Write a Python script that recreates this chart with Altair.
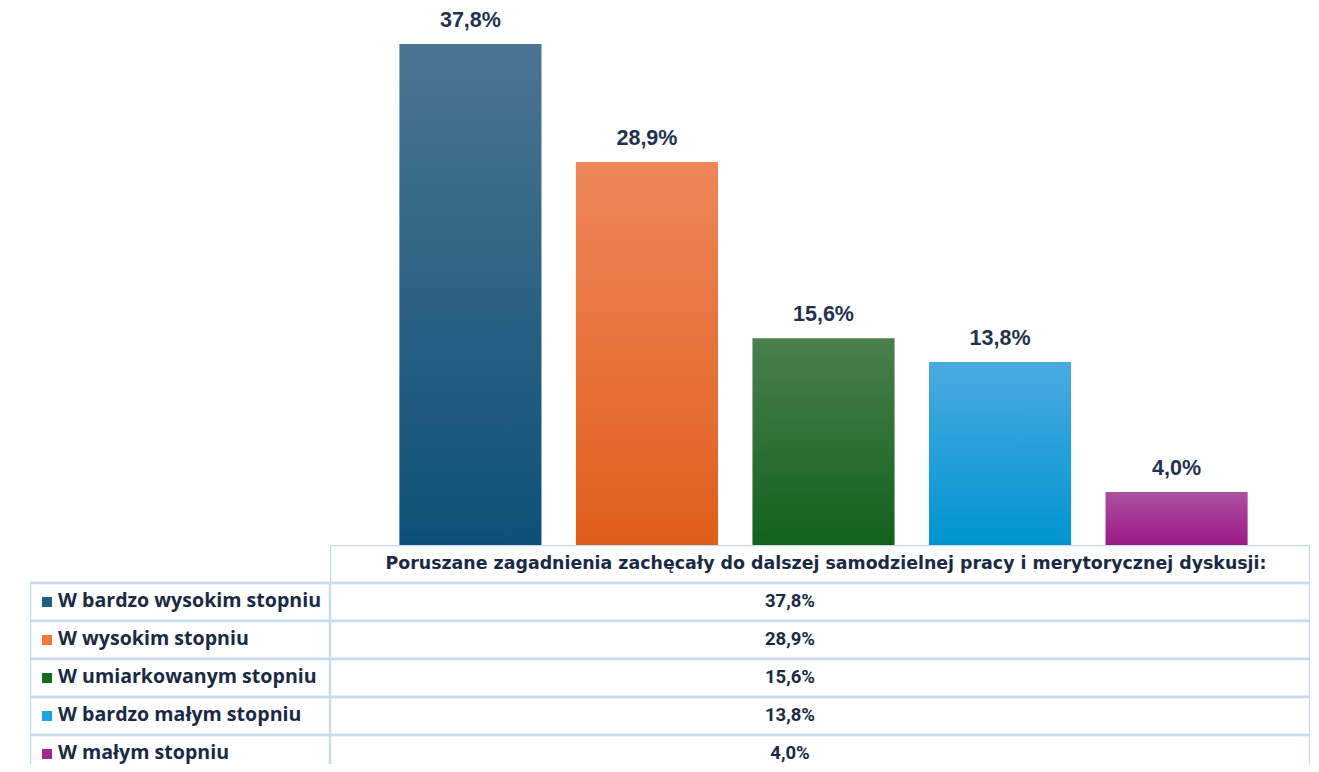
import altair as alt
import pandas as pd

categories = [
    "W bardzo wysokim stopniu",
    "W wysokim stopniu",
    "W umiarkowanym stopniu",
    "W bardzo małym stopniu",
    "W małym stopniu",
]
values = [37.8, 28.9, 15.6, 13.8, 4.0]
value_labels = [f"{v:.1f}%".replace(".", ",") for v in values]
header_text = "Poruszane zagadnienia zachęcały do dalszej samodzielnej pracy i merytorycznej dyskusji:"
square_colors = ["#1f5f80", "#ef7a3e", "#186a1e", "#1aa5e0", "#a02892"]
grad_top = ["#4b7592", "#ee8659", "#4a7f4e", "#4aaae0", "#ad50a0"]
grad_bottom = ["#0d5077", "#e05e1b", "#11621b", "#0095d0", "#9a1a85"]

df = pd.DataFrame({"cat": categories, "value": values, "label": value_labels})

x_scale = alt.Scale(domain=categories, range=[0, 987], paddingInner=0.195, paddingOuter=0.393)
y_scale = alt.Scale(domain=[0, 40.52], nice=False)
X = alt.X("cat:N", scale=x_scale, axis=None)
Y = alt.Y("value:Q", scale=y_scale, axis=None)

layers = []
for cat, top, bot in zip(categories, grad_top, grad_bottom):
    grad = {
        "gradient": "linear", "x1": 0, "y1": 0, "x2": 0, "y2": 1,
        "stops": [{"offset": 0, "color": top}, {"offset": 1, "color": bot}],
    }
    layers.append(
        alt.Chart(df).transform_filter(alt.datum.cat == cat)
        .mark_bar(fill=grad)
        .encode(x=X, y=Y)
    )
bar_text = alt.Chart(df).mark_text(
    baseline="alphabetic", dy=-17, font="Liberation Sans", fontWeight="bold",
    fontSize=21.5, color="#1f3350"
).encode(x=X, y=Y, text="label:N")
bars = alt.layer(*layers, bar_text).properties(width=980, height=537)

spacer = alt.Chart(pd.DataFrame({"a": [0]})).mark_point(opacity=0, size=0).encode(
    x=alt.value(0), y=alt.value(0)
).properties(width=300, height=537)

rows = [header_text] + categories
row_scale = alt.Scale(domain=rows, range=[0, 228], paddingInner=0, paddingOuter=0)
border = "#c8dcf0"
txt_color = "#1b2a44"

right_df = pd.DataFrame({
    "row": rows,
    "text": [header_text] + value_labels,
    "kind": ["h"] + ["v"] * len(categories),
    "col": "v",
})
RX = alt.X("col:N", axis=None, scale=alt.Scale(paddingInner=0, paddingOuter=0))
RY = alt.Y("row:N", axis=None, scale=row_scale)
right_rect = alt.Chart(right_df).mark_rect(
    fill="white", stroke=border, strokeWidth=2.5, clip=True
).encode(x=RX, y=RY)
right_head = alt.Chart(right_df).transform_filter(alt.datum.kind == "h").mark_text(
    font="DejaVu Sans", fontWeight="bold", fontSize=17.4,
    color=txt_color, baseline="middle", dx=6
).encode(x=RX, y=RY, text="text:N")
right_vals = alt.Chart(right_df).transform_filter(alt.datum.kind == "v").mark_text(
    font="Roboto", fontWeight="bold", fontSize=18.5, color=txt_color, baseline="middle", dx=-30, dy=-1
).encode(x=RX, y=RY, text="text:N")
right = alt.layer(right_rect, right_head, right_vals).properties(width=980, height=219)

left_df = df.assign(col="l")
LX = alt.X("col:N", axis=None, scale=alt.Scale(paddingInner=0, paddingOuter=0))
LY = alt.Y("cat:N", axis=None, scale=row_scale)
left_rect = alt.Chart(left_df).mark_rect(
    fill="white", stroke=border, strokeWidth=2.5, clip=True
).encode(x=LX, y=LY)
left_sq = alt.Chart(left_df).mark_square(size=100, opacity=1).encode(
    x=alt.value(17), y=LY,
    color=alt.Color("cat:N", scale=alt.Scale(domain=categories, range=square_colors), legend=None),
)
left_txt = alt.Chart(left_df).mark_text(
    align="left", baseline="middle", font="Open Sans", fontWeight="bold", fontSize=19.6,
    color=txt_color, dy=-1.5
).encode(x=alt.value(28), y=LY, text="cat:N")
left = alt.layer(left_rect, left_sq, left_txt).properties(width=300, height=219)

chart = alt.concat(spacer, bars, left, right, columns=2, spacing=0).properties(
    padding={"left": 22, "top": 0, "right": 1, "bottom": 0}
).configure_view(stroke=None)

chart.save("out.html", embed_options={"renderer": "svg", "actions": False})
